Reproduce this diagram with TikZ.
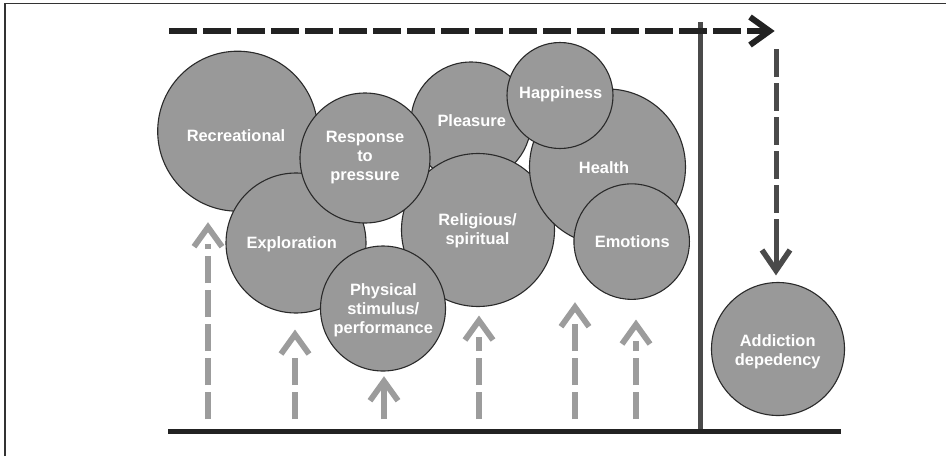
\documentclass[tikz,border=0pt]{standalone}
\usepackage{fontspec}
\setmainfont{Liberation Sans}
\definecolor{bubfill}{HTML}{999999}
\definecolor{bubline}{HTML}{2A2A2A}
\definecolor{arrgray}{HTML}{9C9C9C}
\definecolor{darkline}{HTML}{222222}
\definecolor{midline}{HTML}{4A4A4A}
\definecolor{framecol}{HTML}{333333}
\begin{document}
\begin{tikzpicture}[x=1pt,y=-1pt,
  bub/.style={circle, draw=bubline, fill=bubfill, line width=1.1pt, inner sep=0pt, minimum size=#1},
  lbl/.style={text=white, font=\bfseries\fontsize{16.4}{19}\selectfont, align=center, inner sep=0pt},
  uparr/.style={draw=arrgray, line width=5.5pt, dash pattern=on 27.5pt off 6.5pt},
  upsolid/.style={draw=arrgray, line width=5.5pt},
  upchev/.style={draw=arrgray, line width=5.8pt, miter limit=10},
  topdash/.style={draw=darkline, line width=6pt, dash pattern=on 28pt off 6pt},
  topchev/.style={draw=darkline, line width=6pt, miter limit=10},
  downdash/.style={draw=midline, line width=5pt, dash pattern=on 28pt off 6pt},
  downsolid/.style={draw=midline, line width=5pt},
  downchev/.style={draw=midline, line width=5.5pt, miter limit=10},
  framestyle/.style={draw=framecol, line width=1.4pt}
]
\useasboundingbox (0,0) rectangle (946,456);
% frame
\coordinate (fb) at (5,456);
\coordinate (fc) at (5,3.3);
\coordinate (fr) at (946,3.3);
\draw[framestyle] (fb) -- (fc) -- (fr);

% bubbles (drawing order matters)
\node[bub=160pt] (rec) at (237.7,131.2) {};
\node[bub=140pt] (exp) at (296,243) {};
\node[bub=120pt] (plea) at (471,122) {};
\node[bub=153pt] (rel) at (478,230) {};
\node[bub=130pt] (resp) at (365,158) {};
\node[bub=156pt] (hea) at (607.5,167) {};
\node[bub=106pt] (hap) at (560,95.5) {};
\node[bub=115.5pt] (emo) at (631.7,241.6) {};
\node[bub=125pt] (phy) at (383,308.5) {};
\node[bub=133pt] (add) at (778,349) {};

% labels
\node[lbl] (trec) at (236,136) {Recreational};
\node[lbl] (tresp) at (365,158) {Response\\to\\pressure};
\node[lbl] (tplea) at (471.7,121) {Pleasure};
\node[lbl] (thap) at (560.7,94.5) {Happiness};
\node[lbl] (thea) at (604,168) {Health};
\node[lbl] (trel) at (477.5,230.5) {Religious/\\spiritual};
\node[lbl] (temo) at (632.3,242) {Emotions};
\node[lbl] (texp) at (291.7,244.5) {Exploration};
\node[lbl] (tphy) at (383.3,310) {Physical\\stimulus/\\performance};
\node[lbl] (tadd) at (777.7,351.3) {Addiction\\depedency};

% upward gray arrows
\foreach \n/\x/\t in {1/208/222.7, 2/295/330, 4/479/316, 5/575/302.7, 6/636/320} {
  \coordinate (b\n) at (\x,419);
  \coordinate (t\n) at (\x,\t);
  \draw[uparr] (b\n) -- ([yshift=-21pt]t\n);
  \draw[upchev] ([xshift=-14pt,yshift=-24pt]t\n) -- ([yshift=-4.5pt]t\n) -- ([xshift=14pt,yshift=-24pt]t\n);
}
\coordinate (b3) at (384,419);
\coordinate (t3) at (384,376.7);
\draw[upsolid] (b3) -- ([yshift=-8pt]t3);
\draw[upchev] ([xshift=-14pt,yshift=-24pt]t3) -- ([yshift=-4.5pt]t3) -- ([xshift=14pt,yshift=-24pt]t3);

% baseline and vertical divider
\coordinate (bl) at (168,431.7);
\coordinate (br) at (841,431.7);
\coordinate (vt) at (700.5,22);
\coordinate (vb) at (700.5,431.7);
\draw[draw=midline, line width=5pt] (vt) -- (vb);
\draw[draw=darkline, line width=5pt] (bl) -- (br);

% top dashed arrow
\coordinate (tl) at (169,31);
\coordinate (tr) at (775,31);
\draw[topdash] (tl) -- ([xshift=-6pt]tr);
\draw[topchev] ([xshift=-25pt,yshift=14pt]tr) -- ([xshift=-5.5pt]tr) -- ([xshift=-25pt,yshift=-14pt]tr);

% down dashed arrow
\coordinate (dt) at (776,49);
\coordinate (dh) at (776,275);
\coordinate (dl) at (776,219);
\draw[downdash] (dt) -- (dl);
\draw[downsolid] (dl) -- ([yshift=8pt]dh);
\draw[downchev] ([xshift=-14pt,yshift=25pt]dh) -- ([yshift=4.5pt]dh) -- ([xshift=14pt,yshift=25pt]dh);
\end{tikzpicture}
\end{document}
